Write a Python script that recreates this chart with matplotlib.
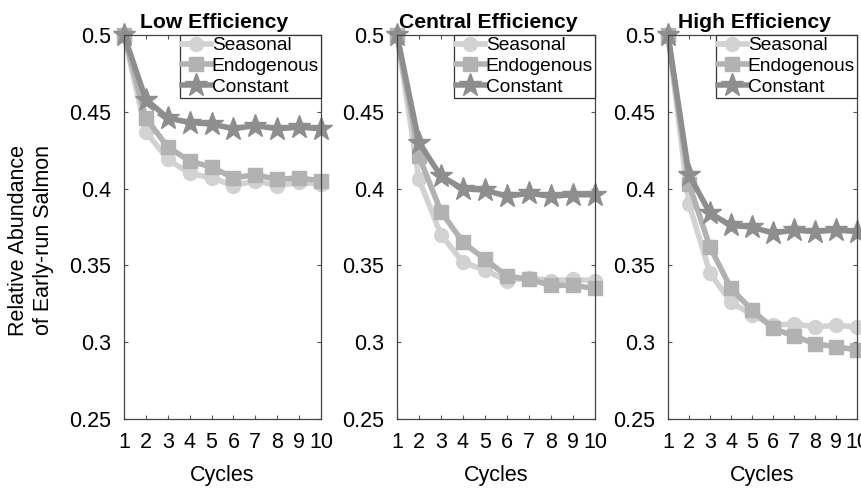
import matplotlib
matplotlib.use("Agg")
import matplotlib.pyplot as plt

plt.rcParams['font.family'] = ['Liberation Sans', 'DejaVu Sans']

cycles = [1, 2, 3, 4, 5, 6, 7, 8, 9, 10]
titles = ["Low Efficiency", "Central Efficiency", "High Efficiency"]
series_names = ["Seasonal", "Endogenous", "Constant"]

# Low efficiency
low_seasonal = [0.5, 0.437, 0.419, 0.410, 0.407, 0.402, 0.405, 0.402, 0.404, 0.403]
low_endogenous = [0.5, 0.446, 0.427, 0.418, 0.414, 0.407, 0.409, 0.406, 0.407, 0.405]
low_constant = [0.5, 0.458, 0.446, 0.443, 0.442, 0.439, 0.441, 0.439, 0.440, 0.439]

# Central efficiency
cen_seasonal = [0.5, 0.406, 0.370, 0.352, 0.347, 0.340, 0.342, 0.340, 0.341, 0.340]
cen_endogenous = [0.5, 0.421, 0.385, 0.365, 0.354, 0.343, 0.341, 0.337, 0.337, 0.335]
cen_constant = [0.5, 0.430, 0.408, 0.400, 0.399, 0.395, 0.397, 0.395, 0.396, 0.396]

# High efficiency
high_seasonal = [0.5, 0.390, 0.345, 0.326, 0.318, 0.311, 0.312, 0.310, 0.311, 0.310]
high_endogenous = [0.5, 0.403, 0.362, 0.335, 0.321, 0.309, 0.304, 0.299, 0.297, 0.295]
high_constant = [0.5, 0.409, 0.384, 0.376, 0.375, 0.371, 0.373, 0.372, 0.373, 0.372]

panels = [
    [low_seasonal, low_endogenous, low_constant],
    [cen_seasonal, cen_endogenous, cen_constant],
    [high_seasonal, high_endogenous, high_constant],
]

colors = ['#d2d2d2', '#b2b2b2', '#8e8e8e']
markers = ['o', 's', '*']
msizes = [10, 9.5, 17]

W, H = 862, 488
fig = plt.figure(figsize=(W / 100, H / 100), dpi=100)

xbox = [(124, 321), (397, 595), (668, 857)]
top, bottom = 35, 419

for k, (l, r) in enumerate(xbox):
    ax = fig.add_axes([l / W, 1 - bottom / H, (r - l) / W, (bottom - top) / H])
    for vals, c, m, ms, name in zip(panels[k], colors, markers, msizes, series_names):
        ax.plot(cycles, vals, color=c, marker=m, markersize=ms, lw=4,
                markeredgecolor=c, label=name, clip_on=False)
    ax.set_xlim(1, 10)
    ax.set_ylim(0.25, 0.5)
    ax.set_xticks(cycles)
    ax.set_yticks([0.25, 0.3, 0.35, 0.4, 0.45, 0.5])
    ax.set_yticklabels(['0.25', '0.3', '0.35', '0.4', '0.45', '0.5'])
    ax.tick_params(direction='in', length=3, width=0.8, color='#555555',
                   top=True, right=True, labelsize=15.5)
    ax.tick_params(axis='x', pad=9)
    ax.tick_params(axis='y', pad=9)
    for s in ax.spines.values():
        s.set_color('#444444')
        s.set_linewidth(0.9)
    # titles sit a little left of the panel centre in the reference
    ax.set_title(titles[k], fontsize=15.2, fontweight='bold', pad=5,
                 x=0.5 - 8 / (r - l))
    ax.set_xlabel("Cycles", fontsize=15.5, labelpad=9)
    leg = ax.legend(loc='upper right', borderaxespad=0, fontsize=13.8,
                    handlelength=1.5, handletextpad=0.05, labelspacing=0.18,
                    borderpad=0.1, fancybox=False, framealpha=1)
    leg.get_frame().set_edgecolor('#333333')
    leg.get_frame().set_linewidth(0.9)

fig.text(31 / W, 1 - 240 / H, "Relative Abundance\nof Early-run Salmon",
         rotation=90, ha='center', va='center', fontsize=15.5,
         multialignment='center', linespacing=1.2)

fig.savefig("out.png", dpi=100)
